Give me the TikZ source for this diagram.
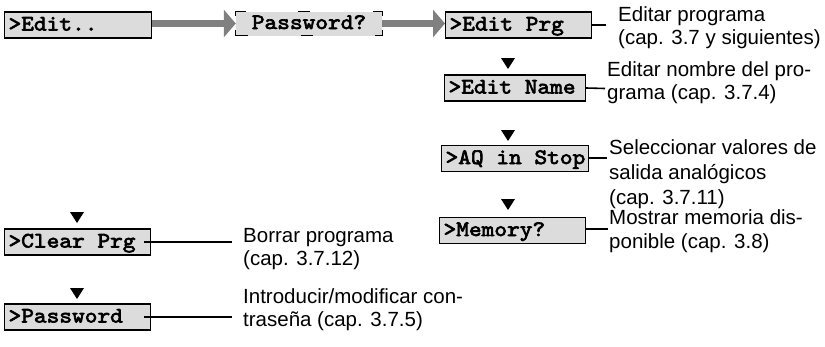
\documentclass[tikz,border=0pt]{standalone}
\usepackage{fontspec}
\setmainfont{Liberation Sans}
\newfontfamily\lcdfont[FakeBold=3,FakeStretch=1.1]{lmmono10-regular.otf}
\newcommand\lcdsp{\hspace*{12.7pt}}
\usetikzlibrary{arrows.meta,calc}
\definecolor{boxgray}{HTML}{DCDCDC}
\definecolor{arrgray}{HTML}{808080}
\begin{document}
\begin{tikzpicture}[x=1pt,y=-1pt,
  lcd/.style={draw, fill=boxgray, line width=1.1pt,
    font=\lcdfont\fontsize{22}{25}\selectfont,
    anchor=west, minimum height=26pt, inner xsep=4pt, inner ysep=0pt,
    text height=13pt, text depth=2pt, align=left, text width=#1},
  pwbox/.style={fill=boxgray,
    font=\lcdfont\fontsize{22}{25}\selectfont,
    minimum width=146pt, minimum height=24pt, inner sep=0pt,
    text height=13pt, text depth=2pt, align=center},
  brk/.style={line width=1.1pt},
  lbl/.style={anchor=base west, inner sep=0pt, font=\fontsize{20.5}{24}\selectfont},
  conn/.style={line width=1.6pt},
  flow/.style={draw=arrgray, line width=6.5pt, -{Triangle[length=12pt,width=27pt]}},
  tri/.style={fill=black}
]
\useasboundingbox (0,0) rectangle (825,346);

% LCD boxes
\node[lcd=139pt] (edit) at (4,25) {>Edit..};
\node[pwbox] (pw) at (309,23.5) {Password?};
\node[lcd=138pt] (eprg) at (445,25) {>Edit\lcdsp Prg};
\node[lcd=133pt] (ename) at (444,88) {>Edit\lcdsp Name};
\node[lcd=139pt] (aq) at (441,158.5) {>AQ\lcdsp in\lcdsp Stop};
\node[lcd=138pt] (mem) at (439,230.5) {>Memory?};
\node[lcd=138pt] (clr) at (4,242) {>Clear\lcdsp Prg};
\node[lcd=138pt] (pwd) at (4,317) {>Password};

% broken border of the Password? box
\draw[brk] ([xshift=10pt]pw.north west) -- (pw.north west) -- ([yshift=-5pt]pw.north west);
\draw[brk] ([xshift=12pt]pw.south west) -- (pw.south west) -- ([yshift=6pt]pw.south west);
\draw[brk] ([xshift=-9pt]pw.north east) -- (pw.north east) -- ([yshift=-5pt]pw.north east);
\draw[brk] ([xshift=-7pt]pw.south east) -- (pw.south east) -- ([yshift=6pt]pw.south east);
\draw[brk] ([xshift=62pt]pw.north west) -- ([xshift=74pt]pw.north west);
\draw[brk] ([xshift=65pt]pw.south west) -- ([xshift=77pt]pw.south west);

% flow arrows
\draw[flow] (edit.east |- pw.west) -- (pw.west);
\draw[flow] (pw.east) -- (pw.east -| eprg.west);

% scroll triangles
\fill[tri] (501,58) -- (515,58) -- (508,69) -- cycle;
\fill[tri] (501,130) -- (515,130) -- (508,141) -- cycle;
\fill[tri] (501,199) -- (515,199) -- (508,210) -- cycle;
\fill[tri] (70,212) -- (84,212) -- (77,223) -- cycle;
\fill[tri] (70,288) -- (84,288) -- (77,299) -- cycle;

% connector end points
\coordinate (c1) at (606,25);
\coordinate (c2) at (605,88.5);
\coordinate (c3) at (607,158);
\coordinate (c4) at (608,229);
\coordinate (c5) at (232,242);
\coordinate (c6) at (232,317);

\draw[conn] (eprg.east) -- (c1);
\draw[conn] (ename.east) -- (c2);
\draw[conn] (aq.east |- c3) -- (c3);
\draw[conn] (mem.east |- c4) -- (c4);
\draw[conn] ([xshift=-7pt]clr.east) -- (c5);
\draw[conn] ([xshift=-7pt]pwd.east) -- (c6);

% descriptions
\node[lbl] (l1a) at (618,21) {Editar programa};
\node[lbl] (l1b) at (618,44) {(cap. 3.7 y siguientes)};
\node[lbl] (l2a) at (607,76) {Editar nombre del pro-};
\node[lbl] (l2b) at (607,99) {grama (cap. 3.7.4)};
\node[lbl] (l3a) at (609,154) {Seleccionar valores de};
\node[lbl] (l3b) at (609,179) {salida analógicos};
\node[lbl] (l3c) at (609,204) {(cap. 3.7.11)};
\node[lbl] (l4a) at (609,224) {Mostrar memoria dis-};
\node[lbl] (l4b) at (609,248) {ponible (cap. 3.8)};
\node[lbl] (l5a) at (243,242) {Borrar programa};
\node[lbl] (l5b) at (243,265) {(cap. 3.7.12)};
\node[lbl] (l6a) at (243,303) {Introducir/modificar con-};
\node[lbl] (l6b) at (243,326) {traseña (cap. 3.7.5)};
\end{tikzpicture}
\end{document}
